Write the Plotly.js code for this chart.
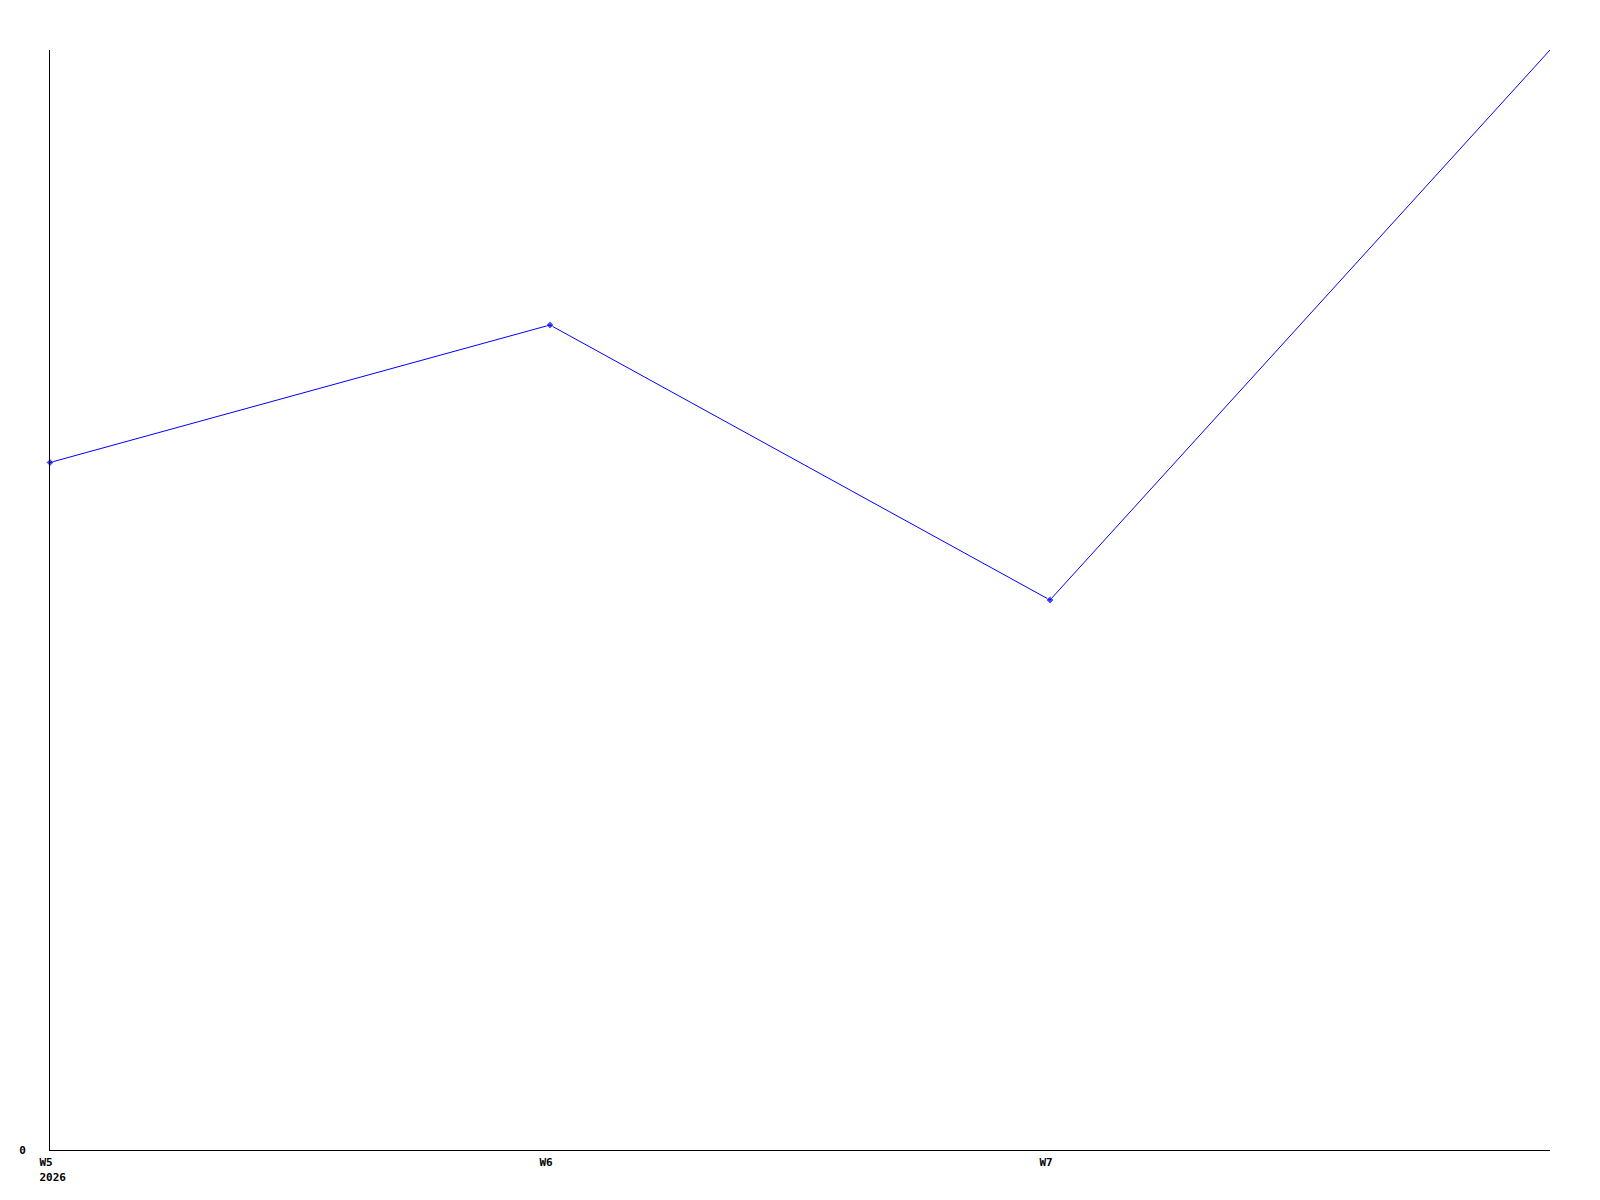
<!DOCTYPE html>
<html>
<head>
<meta charset="utf-8">
<script src="https://cdn.plot.ly/plotly-3.0.1.min.js"></script>
<style>html,body{margin:0;padding:0;background:#fff;}#chart{width:1600px;height:1200px;}</style>
</head>
<body>
<div id="chart"></div>
<script>
const weeks = [5, 6, 7, 8];
const values = [5, 6, 4, 8];
const xTickVals = [5, 6, 7];
const xTickText = ["W5<br>2026", "W6", "W7"];
const yTickVals = [0];
const yTickText = ["0"];

const tickFont = {family: "DejaVu Sans Mono", size: 11, color: "#000", weight: "bold"};

Plotly.newPlot("chart", [{
  x: weeks,
  y: values,
  type: "scatter",
  mode: "lines+markers",
  line: {color: "#0000ff", width: 1},
  marker: {color: "#0000ff", symbol: "diamond", size: [6, 6, 6, 0]},
  cliponaxis: false,
  hoverinfo: "none"
}], {
  width: 1600,
  height: 1200,
  margin: {l: 50, r: 50, t: 50, b: 50, pad: 0},
  paper_bgcolor: "#fff",
  plot_bgcolor: "#fff",
  showlegend: false,
  xaxis: {
    range: [5, 8],
    tickvals: xTickVals,
    ticktext: xTickText,
    showgrid: false,
    zeroline: false,
    showline: true,
    linecolor: "#000",
    linewidth: 1,
    ticks: "",
    ticklabelposition: "outside right",
    ticklabelshift: -11,
    ticklabelstandoff: 2,
    tickfont: tickFont
  },
  yaxis: {
    range: [0, 8],
    tickvals: yTickVals,
    ticktext: yTickText,
    showgrid: false,
    zeroline: false,
    showline: true,
    linecolor: "#000",
    linewidth: 1,
    ticks: "",
    ticklabelstandoff: 21,
    tickfont: tickFont
  }
}, {staticPlot: true});
</script>
</body>
</html>
